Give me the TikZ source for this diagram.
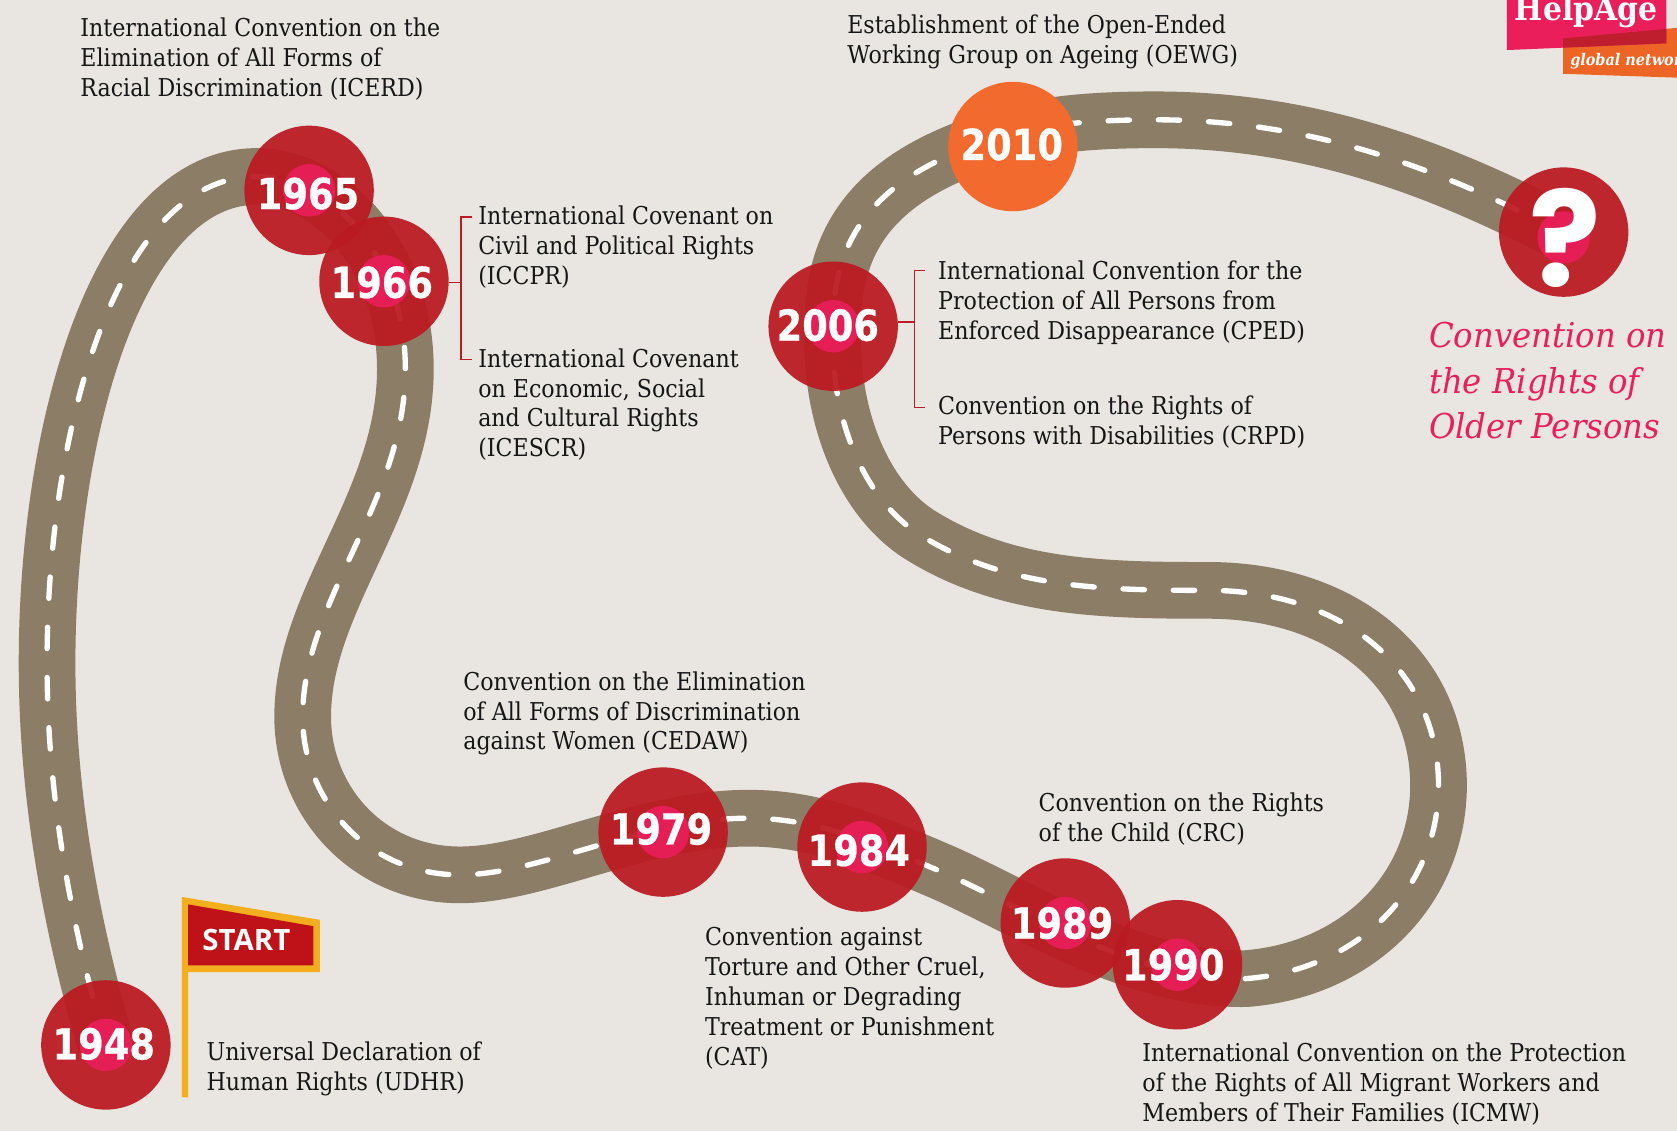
\documentclass[tikz,border=0pt]{standalone}
\usepackage{fontspec}
\setmainfont{DejaVu Serif}
\newfontfamily\bodyf[FakeStretch=0.90]{DejaVu Serif}
\newfontfamily\crof[FakeStretch=0.945]{DejaVu Serif}
\newfontfamily\yearf[FakeStretch=0.86,FakeBold=0.5]{DejaVu Sans}
\newfontfamily\qf{Poppins}
\newfontfamily\startf{Open Sans}
\definecolor{bgc}{HTML}{E9E6E1}
\definecolor{roadc}{HTML}{8B7D66}
\definecolor{redc}{HTML}{BB1B22}
\definecolor{pinkc}{HTML}{E91E5A}
\definecolor{orangec}{HTML}{F26A2E}
\definecolor{logoorange}{HTML}{EC6525}
\definecolor{yellowc}{HTML}{F2AE1C}
\definecolor{flagred}{HTML}{BE1218}
\definecolor{textc}{HTML}{161616}
\definecolor{darkover}{HTML}{BE1E2D}
\tikzset{
  lbl/.style={anchor=north west,inner sep=0pt,align=left,yshift=19.6pt,text=textc,font=\bodyf\fontsize{23}{28}\selectfont},
  bigc/.style={circle,minimum size=121pt,inner sep=0pt,fill=redc,opacity=0.94},
  innerc/.style={circle,minimum size=49pt,inner sep=0pt,fill=pinkc,opacity=0.92},
  yr/.style={inner sep=0pt,text=white,font=\yearf\bfseries\fontsize{40}{40}\selectfont},
  brk/.style={draw=redc,line width=1.6pt},
  roadline/.style={line width=53pt,draw=roadc,line cap=butt},
  roaddash/.style={line width=5pt,draw=white,line cap=round,dash pattern=on 20pt off 27pt},
}
\newcommand{\roadpath}{(99,977) .. controls (65,860) and (44,740) .. (44,620)
 .. controls (44,400) and (110,165) .. (240,165)
 .. controls (310,165) and (379,240) .. (379,345)
 .. controls (379,470) and (283,560) .. (283,670)
 .. controls (283,750) and (345,818) .. (430,818)
 .. controls (505,818) and (600,765) .. (700,765)
 .. controls (760,765) and (810,785) .. (880,815)
 .. controls (960,850) and (1060,917) .. (1165,915)
 .. controls (1270,907) and (1347,830) .. (1345,730)
 .. controls (1342,620) and (1250,552) .. (1130,552)
 .. controls (1030,552) and (940,550) .. (860,500)
 .. controls (805,465) and (775,385) .. (779,305)
 .. controls (778,225) and (815,160) .. (947,125)
 .. controls (985,115) and (1030,112) .. (1080,112)
 .. controls (1230,112) and (1350,160) .. (1462,218)}
\newcommand{\yearnode}[4]{\node[bigc] (#1) at (#2) {};\node[innerc] (#1i) at (#1) {};\node[yr] (#1t) at (#3) {#4};}
\begin{document}
\begin{tikzpicture}[x=1pt,y=-1pt]
\useasboundingbox (0,0) rectangle (1568,1057.5);
\fill[bgc] (0,0) rectangle (1568,1057.5);
\draw[roadline] \roadpath;
\draw[roaddash] \roadpath;

% logo
\begin{scope}
\clip (0,0) rectangle (1568,1057.5);
\fill[logoorange] (1461.6,36) -- (1568,26) -- (1568,72.6) -- (1461.6,69) -- cycle;
\fill[pinkc] (1409,0) -- (1558,0) -- (1558,40.5) -- (1409,46.8) -- cycle;
\fill[darkover] (1461.6,36) -- (1558,27) -- (1558,40.5) -- (1461.6,44.5) -- cycle;
\node[anchor=base,inner sep=0pt,text=white,font=\bodyf\bfseries\fontsize{31}{31}\selectfont] (logo) at (1483,19) {HelpAge};
\node[anchor=base west,inner sep=0pt,text=white,font=\bodyf\bfseries\itshape\fontsize{15}{15}\selectfont] (logob) at (1468,61) {global network};
\end{scope}

% flag
\fill[yellowc] (170,838.6) -- (299,860) -- (299,909) -- (176,909) -- (176,1026) -- (170,1026) -- cycle;
\fill[flagred] (176,845.6) -- (293,866) -- (293,902.6) -- (176,902.6) -- cycle;
\node[anchor=base west,inner sep=0pt,text=white,font=\startf\bfseries\fontsize{27.5}{27.5}\selectfont] (start) at (189,889) {START};

% circles
\yearnode{y48}{99,977}{97,976}{1948}
\yearnode{y65}{289,178}{288,181}{1965}
\yearnode{y66}{359,263}{357,264}{1966}
\yearnode{y79}{620,778}{618,775}{1979}
\yearnode{y84}{806,792}{803,795}{1984}
\yearnode{y89}{996,863}{993,863}{1989}
\yearnode{y90}{1101,902}{1097,902}{1990}
\yearnode{y06}{779,305}{774,304}{2006}
\node[circle,minimum size=121pt,inner sep=0pt,fill=orangec] (y10) at (947,137) {};
\node[yr] (y10t) at (946,135) {2010};
\node[bigc] (yq) at (1462,217) {};
\node[innerc] (yqi) at (1462,222) {};
\node[inner sep=0pt,text=white,font=\qf\bfseries\fontsize{124}{124}\selectfont] (yqt) at (1463,222) {?};

% brackets
\coordinate (b66) at (431,264);
\coordinate (b66a) at (441,203);
\coordinate (b66b) at (441,336);
\draw[brk] (y66.east |- b66) -- (b66);
\draw[brk] (b66a) -- (431,203) -- (431,336) -- (b66b);
\coordinate (b06) at (855,301);
\coordinate (b06a) at (865,253);
\coordinate (b06b) at (865,381);
\draw[brk] (y06.east |- b06) -- (b06);
\draw[brk] (b06a) -- (855,253) -- (855,381) -- (b06b);

% labels
\node[lbl] (icerd) at (75,34) {\strut International Convention on the\\Elimination of All Forms of\\Racial Discrimination (ICERD)};
\node[lbl] (oewg) at (792,31) {\strut Establishment of the Open-Ended\\Working Group on Ageing (OEWG)};
\node[lbl] (iccpr) at (447,210) {\strut International Covenant on\\Civil and Political Rights\\(ICCPR)};
\node[lbl] (icescr) at (447,343) {\strut International Covenant\\on Economic, Social\\and Cultural Rights\\(ICESCR)};
\node[lbl] (cped) at (877,261) {\strut International Convention for the\\Protection of All Persons from\\Enforced Disappearance (CPED)};
\node[lbl] (crpd) at (877,387) {\strut Convention on the Rights of\\Persons with Disabilities (CRPD)};
\node[lbl] (cedaw) at (433,645) {\strut Convention on the Elimination\\of All Forms of Discrimination\\against Women (CEDAW)};
\node[lbl] (crc) at (971,759) {\strut Convention on the Rights\\of the Child (CRC)};
\node[lbl] (cat) at (659,884) {\strut Convention against\\Torture and Other Cruel,\\Inhuman or Degrading\\Treatment or Punishment\\(CAT)};
\node[lbl] (udhr) at (193,991) {\strut Universal Declaration of\\Human Rights (UDHR)};
\node[lbl] (icmw) at (1068,992) {\strut International Convention on the Protection\\of the Rights of All Migrant Workers and\\Members of Their Families (ICMW)};
\node[lbl,text=pinkc,yshift=10.1pt,font=\crof\itshape\fontsize{32}{42.5}\selectfont] (crop) at (1336,325) {\strut Convention on\\the Rights of\\Older Persons};
\end{tikzpicture}
\end{document}
